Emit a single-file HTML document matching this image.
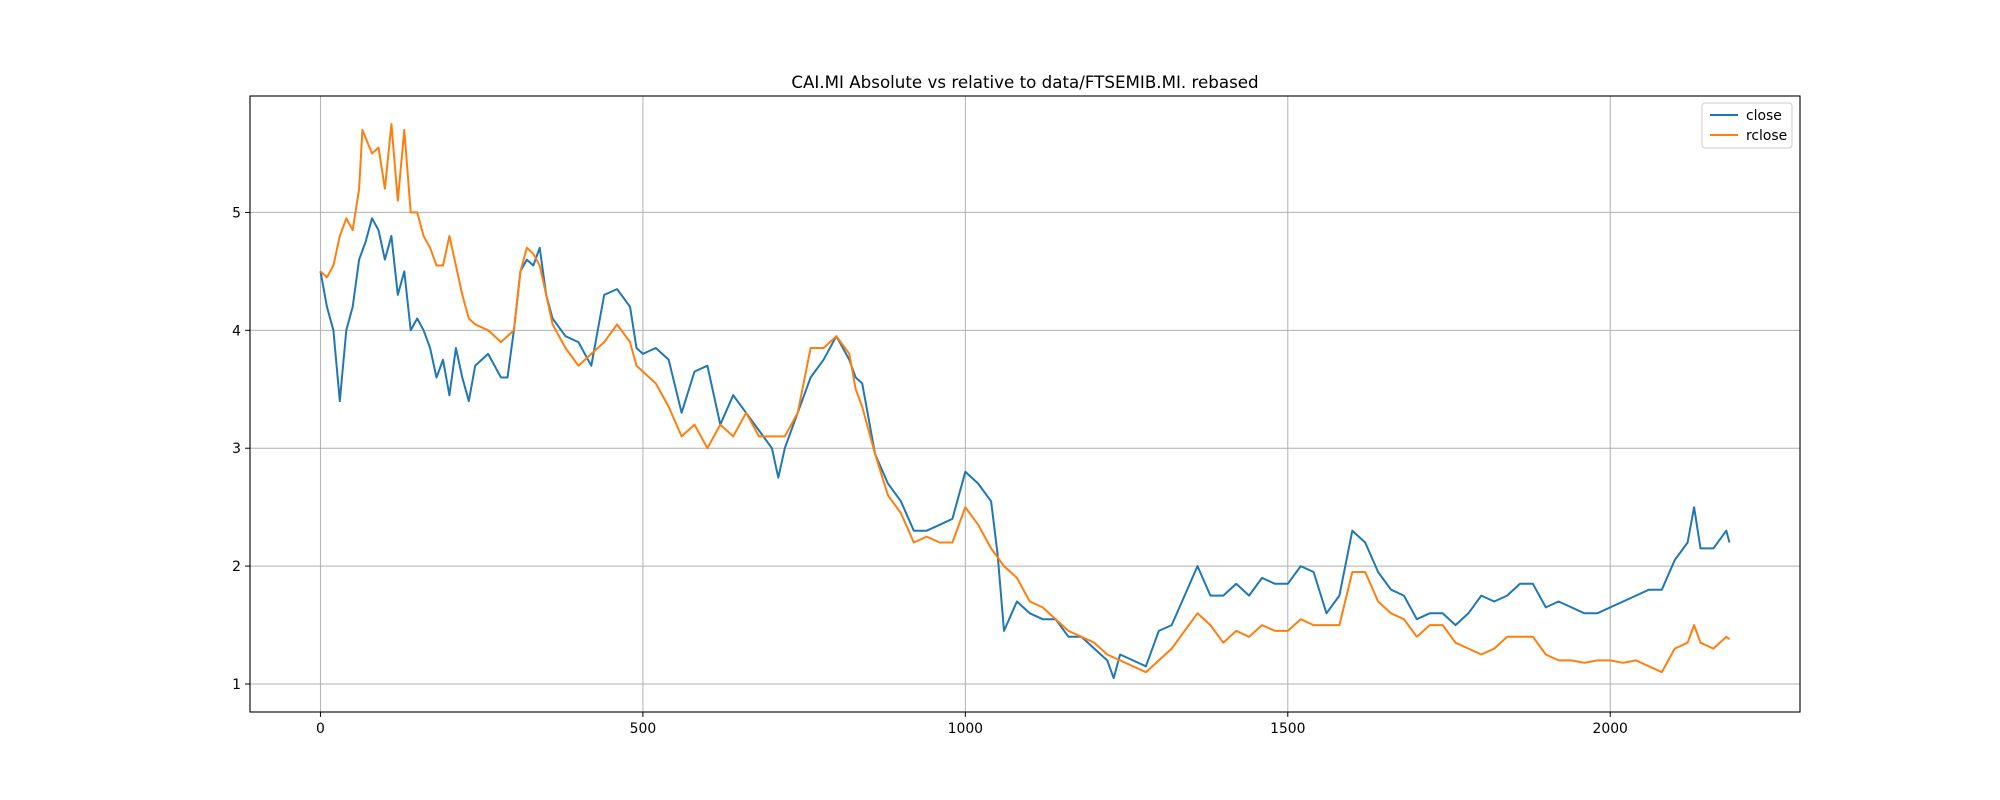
<!DOCTYPE html>
<html><head><meta charset="utf-8"><style>
body{margin:0;background:#fff;}
svg{display:block;font-family:"DejaVu Sans","Liberation Sans",sans-serif;}
</style></head><body>
<svg id="chart" width="2000" height="800" xmlns="http://www.w3.org/2000/svg">
<text x="1025" y="88" font-size="16.7" text-anchor="middle">CAI.MI Absolute vs relative to data/FTSEMIB.MI. rebased</text>
<g id="grid"></g>
<g id="ticks"></g>
<g id="series"></g>
<rect x="250" y="96" width="1550" height="616" fill="none" stroke="#000" stroke-width="1.1"/>
<g>
<rect x="1702" y="103" width="90" height="45" fill="#fff" stroke="#ccc" rx="3"/>
<line x1="1710" y1="115" x2="1738" y2="115" stroke="#1f77b4" stroke-width="2"/>
<text x="1746" y="120" font-size="13.9">close</text>
<line x1="1710" y1="135" x2="1738" y2="135" stroke="#ff7f0e" stroke-width="2"/>
<text x="1746" y="140" font-size="13.9">rclose</text>
</g>
</svg>
<script>
const closeDays=[0,10,20,30,40,50,60,70,80,90,100,110,120,130,140,150,160,170,180,190,200,210,220,230,240,260,280,290,300,310,320,330,340,350,360,380,400,420,440,460,480,490,500,520,540,560,580,600,620,640,660,680,700,710,720,740,760,780,800,820,830,840,860,880,900,920,940,960,980,1000,1020,1040,1050,1060,1080,1100,1120,1140,1160,1180,1200,1220,1230,1240,1260,1280,1300,1320,1340,1360,1380,1400,1420,1440,1460,1480,1500,1520,1540,1560,1580,1600,1620,1640,1660,1680,1700,1720,1740,1760,1780,1800,1820,1840,1860,1880,1900,1920,1940,1960,1980,2000,2020,2040,2060,2080,2100,2120,2130,2140,2160,2180,2185];
const closeVals=[4.5,4.2,4.0,3.4,4.0,4.2,4.6,4.75,4.95,4.85,4.6,4.8,4.3,4.5,4.0,4.1,4.0,3.85,3.6,3.75,3.45,3.85,3.6,3.4,3.7,3.8,3.6,3.6,4.0,4.5,4.6,4.55,4.7,4.3,4.1,3.95,3.9,3.7,4.3,4.35,4.2,3.85,3.8,3.85,3.75,3.3,3.65,3.7,3.2,3.45,3.3,3.15,3.0,2.75,3.0,3.3,3.6,3.75,3.95,3.75,3.6,3.55,2.95,2.7,2.55,2.3,2.3,2.35,2.4,2.8,2.7,2.55,2.1,1.45,1.7,1.6,1.55,1.55,1.4,1.4,1.3,1.2,1.05,1.25,1.2,1.15,1.45,1.5,1.75,2.0,1.75,1.75,1.85,1.75,1.9,1.85,1.85,2.0,1.95,1.6,1.75,2.3,2.2,1.95,1.8,1.75,1.55,1.6,1.6,1.5,1.6,1.75,1.7,1.75,1.85,1.85,1.65,1.7,1.65,1.6,1.6,1.65,1.7,1.75,1.8,1.8,2.05,2.2,2.5,2.15,2.15,2.3,2.2];
const rcloseDays=[0,10,20,30,40,50,60,65,80,90,100,110,120,130,140,150,160,170,180,190,200,210,220,230,240,260,280,300,310,320,330,340,350,360,380,400,420,440,460,480,490,500,520,540,560,580,600,620,640,660,680,700,720,740,760,780,800,820,830,840,860,880,900,920,940,960,980,1000,1020,1040,1060,1080,1100,1120,1140,1160,1180,1200,1220,1240,1260,1280,1300,1320,1340,1360,1380,1400,1420,1440,1460,1480,1500,1520,1540,1560,1580,1600,1620,1640,1660,1680,1700,1720,1740,1760,1780,1800,1820,1840,1860,1880,1900,1920,1940,1960,1980,2000,2020,2040,2060,2080,2100,2120,2130,2140,2160,2180,2185];
const rcloseVals=[4.5,4.45,4.55,4.8,4.95,4.85,5.2,5.7,5.5,5.55,5.2,5.75,5.1,5.7,5.0,5.0,4.8,4.7,4.55,4.55,4.8,4.55,4.3,4.1,4.05,4.0,3.9,4.0,4.5,4.7,4.65,4.55,4.3,4.05,3.85,3.7,3.8,3.9,4.05,3.9,3.7,3.65,3.55,3.35,3.1,3.2,3.0,3.2,3.1,3.3,3.1,3.1,3.1,3.3,3.85,3.85,3.95,3.8,3.5,3.35,2.95,2.6,2.45,2.2,2.25,2.2,2.2,2.5,2.35,2.15,2.0,1.9,1.7,1.65,1.55,1.45,1.4,1.35,1.25,1.2,1.15,1.1,1.2,1.3,1.45,1.6,1.5,1.35,1.45,1.4,1.5,1.45,1.45,1.55,1.5,1.5,1.5,1.95,1.95,1.7,1.6,1.55,1.4,1.5,1.5,1.35,1.3,1.25,1.3,1.4,1.4,1.4,1.25,1.2,1.2,1.18,1.2,1.2,1.18,1.2,1.15,1.1,1.3,1.35,1.5,1.35,1.3,1.4,1.38];
const xTicks=[0,500,1000,1500,2000];
const yTicks=[1,2,3,4,5];

const NS="http://www.w3.org/2000/svg";
const L=250,R=1800,T=96,B=712,XMIN=-109.25,XMAX=2294.25,YMIN=0.7625,YMAX=5.9875;
function sx(v){return L+(v-XMIN)/(XMAX-XMIN)*(R-L);}
function sy(v){return B-(v-YMIN)/(YMAX-YMIN)*(B-T);}
function mk(tag,attrs,parent){const e=document.createElementNS(NS,tag);for(const k in attrs)e.setAttribute(k,attrs[k]);parent.appendChild(e);return e;}
const grid=document.getElementById('grid'),ticks=document.getElementById('ticks'),series=document.getElementById('series');
xTicks.forEach(t=>{
  const x=sx(t);
  const g=mk('line',{x1:x,y1:T,x2:x,y2:B,stroke:'#b0b0b0','stroke-width':1},grid);
  
  
  const tk=mk('line',{x1:x,y1:B,x2:x,y2:B+4.9,stroke:'#000','stroke-width':1},ticks);
  
  
  const lb=mk('text',{x:x,y:B+21,'font-size':13.9,'text-anchor':'middle'},ticks);
  lb.textContent=t;
  
  
});
yTicks.forEach(t=>{
  const y=sy(t);
  const g=mk('line',{x1:L,y1:y,x2:R,y2:y,stroke:'#b0b0b0','stroke-width':1},grid);
  
  
  const tk=mk('line',{x1:L-4.9,y1:y,x2:L,y2:y,stroke:'#000','stroke-width':1},ticks);
  
  
  const lb=mk('text',{x:L-9,y:y+5,'font-size':13.9,'text-anchor':'end'},ticks);
  lb.textContent=t;
  
  
});
function line(days,vals,color,name){
  const d=days.map((t,i)=>(i?'L':'M')+sx(t).toFixed(1)+','+sy(vals[i]).toFixed(1)).join('');
  const p=mk('path',{d:d,fill:'none',stroke:color,'stroke-width':2,'stroke-linejoin':'round'},series);
  
  
}
line(closeDays,closeVals,'#1f77b4','close-line');
line(rcloseDays,rcloseVals,'#ff7f0e','rclose-line');
</script>
</body></html>
